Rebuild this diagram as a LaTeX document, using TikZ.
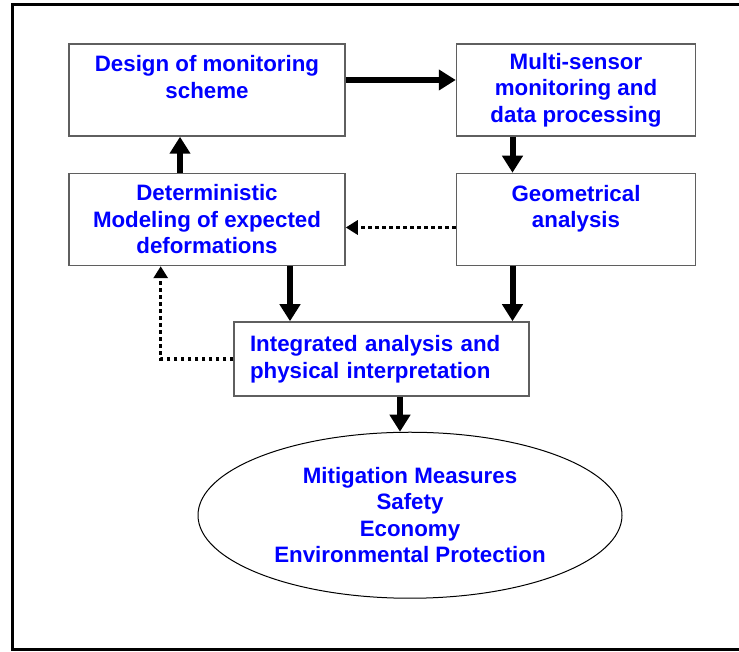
\documentclass[tikz,border=0pt]{standalone}
\usepackage{fontspec}
\setmainfont{Liberation Sans}
\usepackage{tikz}
\usetikzlibrary{arrows.meta,positioning,shapes.geometric}
\definecolor{labelblue}{RGB}{0,0,255}
\definecolor{edgegray}{RGB}{95,95,95}
\tikzset{
  basebox/.style={rectangle,draw=edgegray,line width=1.5pt,align=center,text=labelblue,
    font=\fontsize{22.3}{26.5}\selectfont\bfseries},
  stagenode/.style={basebox,minimum height=92pt},
  intnode/.style={basebox,minimum height=74pt,align=left,text width=263pt,inner xsep=16pt},
  outnode/.style={ellipse,draw=black,line width=1pt,align=center,text=labelblue,inner sep=0pt,
    font=\fontsize{22.3}{26.5}\selectfont\bfseries,minimum width=424pt,minimum height=166pt},
  thickarr/.style={-{Triangle[length=17pt,width=20pt]},line width=6pt,color=black},
  dotarr/.style={-{Triangle[length=12pt,width=14pt]},line width=3.5pt,dash pattern=on 3.5pt off 3.5pt,color=black}
}
\begin{document}
\begin{tikzpicture}[x=1pt,y=1pt]
  \useasboundingbox (0,0) rectangle (739,652);
  %% outer frame, open on the right
  \draw[line width=3pt] (739,647) -- (12,647) -- (12,2) -- (739,2);

  %% top row
  \node[stagenode,minimum width=276pt] (design) at (207,562)
    {Design of monitoring\\scheme\\\mbox{}};
  \node[stagenode,minimum width=239pt,right=110pt of design] (sensor)
    {Multi-sensor\\monitoring and\\data processing};

  %% second row
  \node[stagenode,minimum width=276pt,below=36pt of design] (model)
    {Deterministic\\Modeling of expected\\deformations};
  \node[stagenode,minimum width=239pt,below=36pt of sensor] (geom)
    {Geometrical\\analysis\\\mbox{}};

  %% interpretation and outcome
  \node[intnode,below=55pt of model,xshift=174.5pt] (integ)
    {Integrated analysis and\\physical interpretation};
  \node[outnode,below=35pt of integ,xshift=28.5pt] (mitig)
    {Mitigation Measures\\Safety\\Economy\\Environmental Protection};

  %% arrow taps off the box edges
  \coordinate (modelout) at ([xshift=83pt]model.south);
  \coordinate (geomout) at ([xshift=-63.5pt]geom.south);
  \coordinate (integout) at ([xshift=18.5pt]integ.south);

  %% main flow
  \draw[thickarr] ([yshift=10pt]design.east) -- ([yshift=10pt]sensor.west);
  \draw[thickarr] ([xshift=-63.5pt]sensor.south) -- ([xshift=-63.5pt]geom.north);
  \draw[thickarr] ([xshift=-27pt]model.north) -- ([xshift=-27pt]design.south);
  \draw[thickarr] (modelout) -- (integ.north -| modelout);
  \draw[thickarr] (geomout) -- (integ.north -| geomout);
  \draw[thickarr] (integout) -- (mitig.north -| integout);

  %% feedback loops
  \draw[dotarr] ([yshift=-8pt]geom.west) -- ([yshift=-8pt]model.east);
  \draw[dotarr] (integ.west) -| ([xshift=-46.3pt]model.south);
\end{tikzpicture}
\end{document}
